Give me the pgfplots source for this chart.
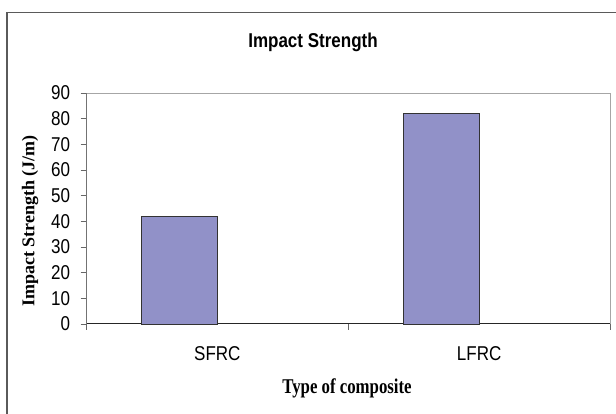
\documentclass[border=0pt]{standalone}
\usepackage{fontspec}
\setmainfont{Liberation Sans}[FakeStretch=0.85]
\newfontfamily\serifb{Liberation Serif}[FakeStretch=0.8]
\newfontfamily\serifbr{Liberation Serif}
\usepackage{pgfplots}
\pgfplotsset{compat=1.18}
\definecolor{barfill}{RGB}{145,145,200}
\definecolor{frameclr}{RGB}{90,90,90}
\begin{document}
\begin{tikzpicture}
\useasboundingbox (0,0) rectangle (616pt,414pt);
\fill[white] (0,0) rectangle (616pt,414pt);
\draw[line width=1.2pt, color=frameclr] (7pt,-10pt) -- (7pt,401.3pt) -- (630pt,401.3pt);
\begin{axis}[
  at={(86.5pt,90pt)}, anchor=south west,
  scale only axis, width=523.5pt, height=231pt,
  xmin=0, xmax=2, ymin=0, ymax=90,
  ytick={0,10,...,90},
  xtick={0.5,1.5}, xticklabels={SFRC,LFRC},
  minor xtick={0,1,2},
  axis lines=left,
  x axis line style={-, color=black!85, line width=1pt},
  y axis line style={-, color=black!55, line width=0.9pt},
  tick align=outside, tick pos=left,
  major tick length=6pt, minor tick length=6pt,
  major x tick style={draw=none},
  every tick/.style={color=black!60, line width=0.8pt},
  tick label style={font=\fontsize{20}{20}\selectfont},
  /pgf/number format/assume math mode=true,
  yticklabel style={anchor=east, xshift=-7pt},
  xticklabel style={anchor=center, yshift=-24pt},
  clip=false,
]
\draw[color=black!35, line width=0.9pt] (axis cs:0,90) -- (axis cs:2,90) -- (axis cs:2,0);
\addplot[ybar, bar width=0.29, bar shift=-0.145, fill=barfill, draw=black!80, line width=0.8pt]
  coordinates {(0.5,42) (1.5,82)};
\end{axis}
\node at (313pt,372pt) {\fontsize{20}{20}\selectfont\bfseries Impact Strength};
\node at (347pt,26pt) {\serifb\fontsize{21}{21}\selectfont\bfseries Type of composite};
\node[rotate=90] at (30pt,193pt) {\serifbr\fontsize{18}{18}\selectfont\bfseries Impact Strength (J/m)};
\end{tikzpicture}
\end{document}
